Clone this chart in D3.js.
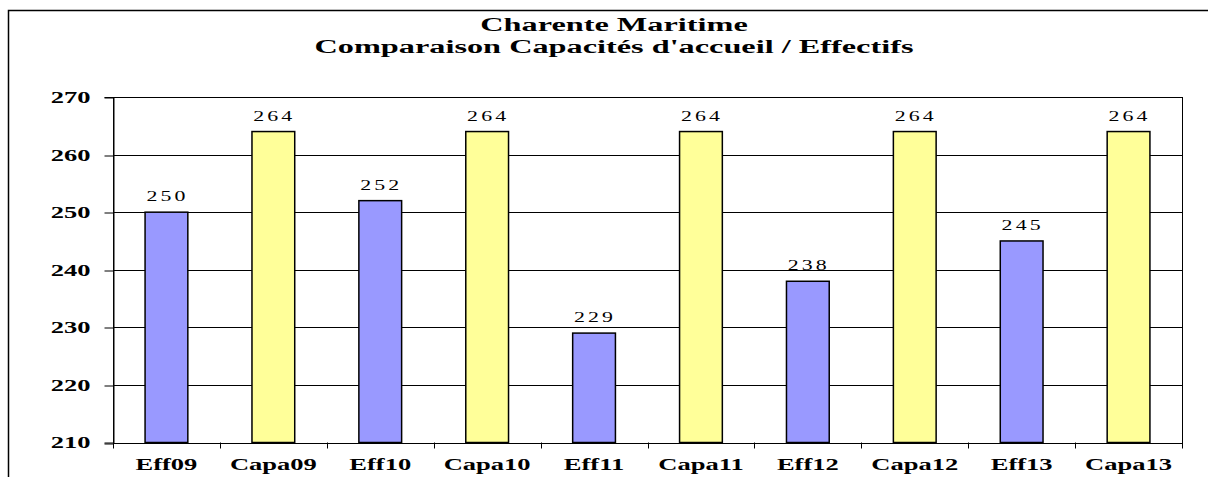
<!DOCTYPE html>
<html>
<head>
<meta charset="utf-8">
<script src="https://cdn.jsdelivr.net/npm/d3@7"></script>
<style>
  body { margin: 0; background: #fff; }
  svg text { font-family: "Liberation Serif", "Times New Roman", serif; fill: #000; }
</style>
</head>
<body>
<svg id="chart" width="1208" height="477"></svg>
<script>
const categories = ["Eff09", "Capa09", "Eff10", "Capa10", "Eff11", "Capa11", "Eff12", "Capa12", "Eff13", "Capa13"];
const values = [250, 264, 252, 264, 229, 264, 238, 264, 245, 264];
const kinds = ["eff", "capa", "eff", "capa", "eff", "capa", "eff", "capa", "eff", "capa"];
const yTicks = [210, 220, 230, 240, 250, 260, 270];
const titleLines = ["Charente Maritime", "Comparaison Capacités d'accueil / Effectifs"];

const colors = { eff: "#9999ff", capa: "#ffff99" };

// the original picture is stretched sideways, text included
const SX = 1.56;
const SX_TITLE = 1.7;

const svg = d3.select("#chart");
const plot = { left: 113, top: 97, right: 1182, bottom: 442.5 };

// outer chart frame (cut off on the right and bottom)
svg.append("rect")
  .attr("x", 8.5).attr("y", 10.5)
  .attr("width", 1220).attr("height", 500)
  .attr("fill", "none").attr("stroke", "#000").attr("stroke-width", 1.5);

svg.selectAll("text.title")
  .data(titleLines)
  .enter()
  .append("text")
  .attr("class", "title")
  .attr("transform", (d, i) => `translate(614,${31 + i * 22}) scale(${SX_TITLE},1)`)
  .attr("text-anchor", "middle")
  .style("font-weight", "bold")
  .style("font-size", "19px")
  .text((d) => d);

const x = d3.scaleBand()
  .domain(categories)
  .range([plot.left, plot.right])
  .paddingInner(0.6)
  .paddingOuter(0.3);

const y = d3.scaleLinear()
  .domain([210, 270])
  .range([plot.bottom, plot.top]);

// gridlines
svg.append("g")
  .selectAll("line")
  .data(yTicks)
  .enter()
  .append("line")
  .attr("x1", plot.left).attr("x2", plot.right)
  .attr("y1", (d) => Math.round(y(d)) + 0.5)
  .attr("y2", (d) => Math.round(y(d)) + 0.5)
  .attr("stroke", "#000").attr("stroke-width", 1);

// plot frame
svg.append("rect")
  .attr("x", plot.left + 0.5).attr("y", Math.round(plot.top) + 0.5)
  .attr("width", plot.right - plot.left)
  .attr("height", Math.round(plot.bottom) - Math.round(plot.top))
  .attr("fill", "none").attr("stroke", "#000").attr("stroke-width", 1);

// y axis
const yAxis = svg.append("g")
  .attr("transform", `translate(${plot.left + 0.5},0)`)
  .call(d3.axisLeft(y).tickValues(yTicks).tickSize(9).tickFormat(d3.format("d")));
yAxis.select(".domain").attr("stroke", "#000");
yAxis.selectAll(".tick line").attr("stroke", "#000")
  .attr("transform", (d) => `translate(0,${Math.round(y(d)) + 0.5 - y(d)})`);
yAxis.selectAll(".tick text")
  .attr("x", -23 / SX)
  .attr("transform", `scale(${SX},1)`)
  .style("font-family", "'Liberation Serif', serif")
  .style("font-weight", "bold")
  .style("font-size", "17px")
  .attr("fill", "#000");

// x axis: ticks at category boundaries
const bounds = d3.range(categories.length + 1).map((i) => plot.left + i * (plot.right - plot.left) / categories.length);
svg.append("g")
  .selectAll("line")
  .data(bounds)
  .enter()
  .append("line")
  .attr("x1", (d) => Math.round(d) + 0.5).attr("x2", (d) => Math.round(d) + 0.5)
  .attr("y1", plot.bottom).attr("y2", plot.bottom + 6)
  .attr("stroke", "#000");

svg.append("g")
  .selectAll("text")
  .data(categories)
  .enter()
  .append("text")
  .attr("transform", (d) => `translate(${x(d) + x.bandwidth() / 2},470) scale(${SX},1)`)
  .attr("text-anchor", "middle")
  .style("font-weight", "bold")
  .style("font-size", "17px")
  .text((d) => d);

// bars
svg.append("g")
  .selectAll("rect")
  .data(values)
  .enter()
  .append("rect")
  .attr("x", (d, i) => x(categories[i]))
  .attr("y", (d) => y(d))
  .attr("width", x.bandwidth())
  .attr("height", (d) => y(210) - y(d))
  .attr("fill", (d, i) => colors[kinds[i]])
  .attr("stroke", "#000")
  .attr("stroke-width", 1.5);

// value labels
svg.append("g")
  .selectAll("text")
  .data(values)
  .enter()
  .append("text")
  .attr("transform", (d, i) => `translate(${x(categories[i]) + x.bandwidth() / 2 + 1},${y(d) - 11}) scale(${SX},1)`)
  .attr("text-anchor", "middle")
  .style("font-size", "14px")
  .style("letter-spacing", "2px")
  .text((d) => d);
</script>
</body>
</html>
